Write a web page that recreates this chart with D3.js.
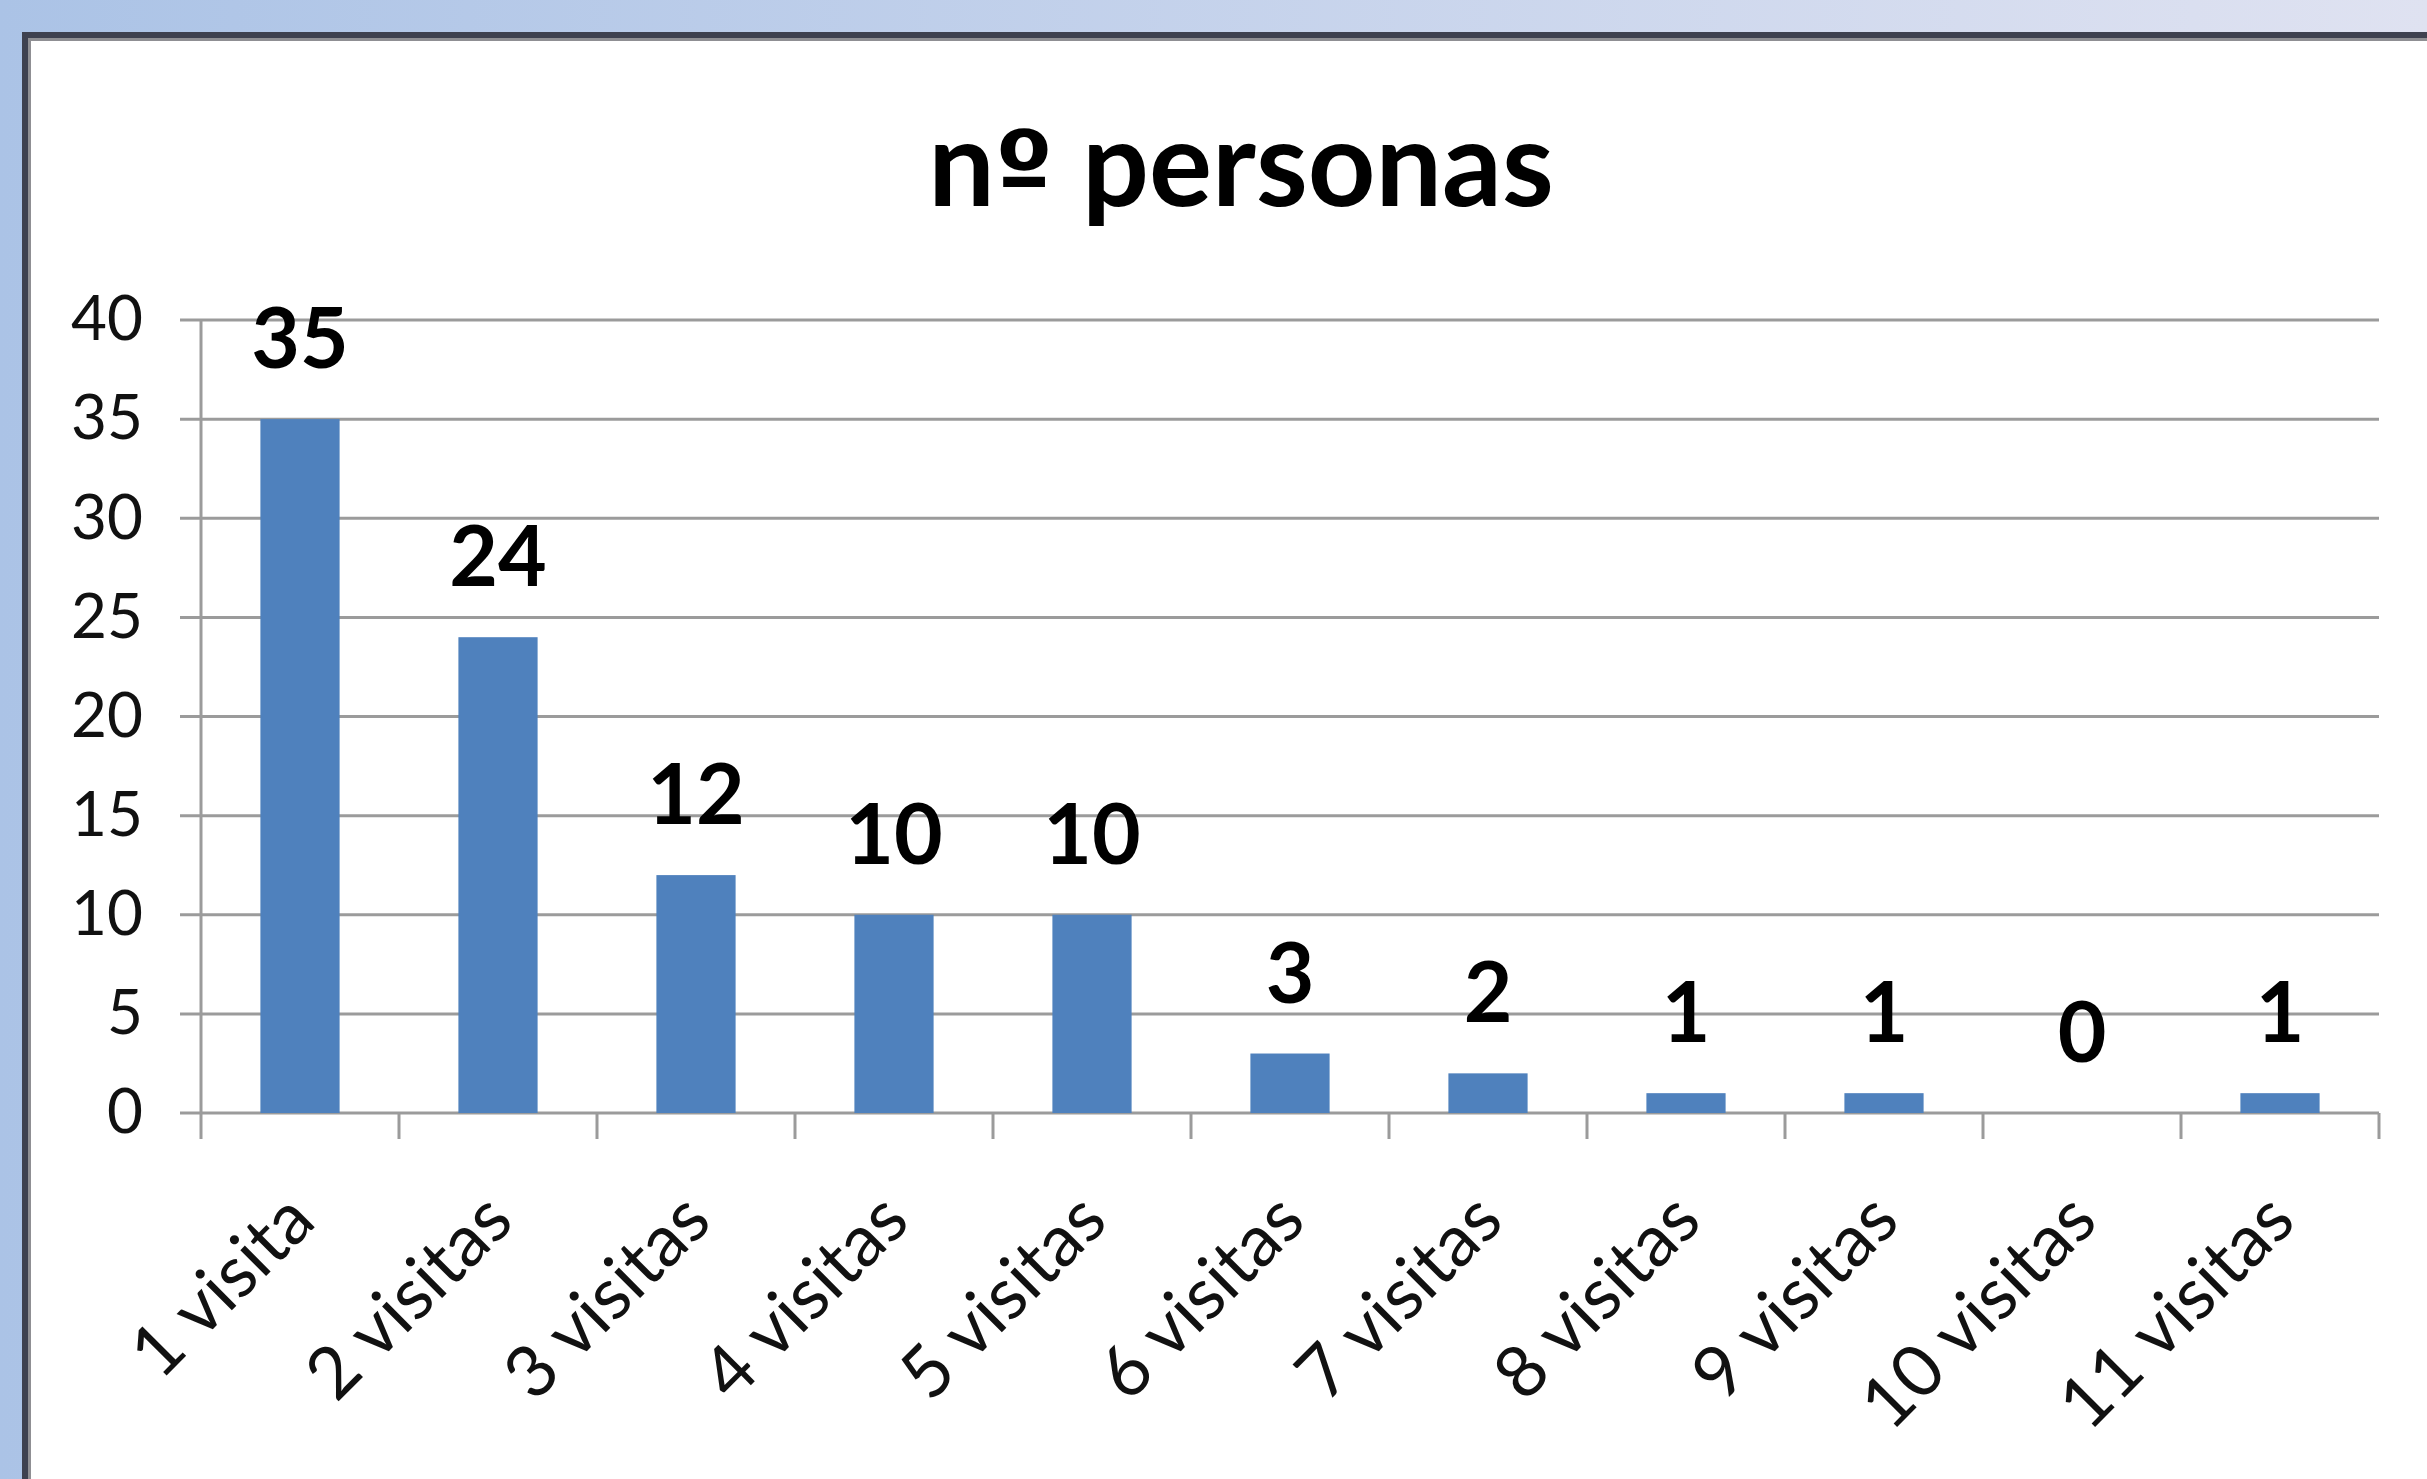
<!DOCTYPE html>
<html>
<head>
<meta charset="utf-8">
<script src="https://cdn.jsdelivr.net/npm/d3@7"></script>
<style>
  body { margin: 0; overflow: hidden; }
  svg { display: block; }
</style>
</head>
<body>
<svg width="2427" height="1479"></svg>
<script>
// data
var titleParts = ["n", "º", " personas"];
var categories = ["1 visita", "2 visitas", "3 visitas", "4 visitas", "5 visitas", "6 visitas",
                  "7 visitas", "8 visitas", "9 visitas", "10 visitas", "11 visitas"];
var values = [35, 24, 12, 10, 10, 3, 2, 1, 1, 0, 1];
var yTicks = [0, 5, 10, 15, 20, 25, 30, 35, 40];

var svg = d3.select('svg'),
    width = +svg.attr("width"),
    height = +svg.attr("height");

var font = "Lato, 'Open Sans', sans-serif";
var gridColor = "#9b9b9b";

//Plot area
var plot = {left: 201, right: 2379, top: 320, bottom: 1113};

//Background gradient
var defs = svg.append('defs');
var grad = defs.append('linearGradient')
    .attr('id', 'bg')
    .attr('x1', 0).attr('x2', 1).attr('y1', 0).attr('y2', 0);
grad.append('stop').attr('offset', 0).attr('stop-color', '#abc3e6');
grad.append('stop').attr('offset', 1).attr('stop-color', '#dfe2f1');

svg.append('rect')
    .attr('width', width)
    .attr('height', height)
    .attr('fill', 'url(#bg)');

//Chart box
svg.append('rect')
    .attr('x', 24).attr('y', 35)
    .attr('width', width - 24).attr('height', height - 35)
    .attr('fill', '#ffffff');

svg.append('path')
    .attr('d', `M25,${height} V35 H${width}`)
    .attr('fill', 'none')
    .attr('stroke', '#3e414f')
    .attr('stroke-width', 6);

svg.append('path')
    .attr('d', `M29.5,${height} V39.5 H${width}`)
    .attr('fill', 'none')
    .attr('stroke', '#8f8f93')
    .attr('stroke-width', 3);

//Scales
var xScale = d3.scaleBand()
    .domain(categories)
    .range([plot.left, plot.right])
    .paddingInner(0.6)
    .paddingOuter(0.3);

var yScale = d3.scaleLinear()
    .domain([0, 40])
    .range([plot.bottom, plot.top]);

//Gridlines (they run out past the axis like the tick marks)
svg.append('g')
    .selectAll('line')
    .data(yTicks)
    .join('line')
    .attr('x1', plot.left - 21)
    .attr('x2', plot.right)
    .attr('y1', d => yScale(d))
    .attr('y2', d => yScale(d))
    .attr('stroke', gridColor)
    .attr('stroke-width', 3);

//Y axis labels
var yAxis = d3.axisLeft(yScale)
    .tickValues(yTicks)
    .tickSize(0)
    .tickPadding(58);

var gy = svg.append('g')
    .attr('transform', `translate(${plot.left},0)`)
    .call(yAxis);
gy.select('.domain').remove();
gy.selectAll('text')
    .attr('font-family', font)
    .attr('font-size', 62)
    .attr('fill', '#111');

//Y axis line
svg.append('line')
    .attr('x1', plot.left).attr('x2', plot.left)
    .attr('y1', yScale(40)).attr('y2', yScale(0) + 26)
    .attr('stroke', gridColor)
    .attr('stroke-width', 3);

//X axis ticks between categories
var bounds = d3.range(categories.length + 1).map(i => xScale.range()[0] + i * xScale.step());
svg.append('g')
    .selectAll('line')
    .data(bounds.slice(1))
    .join('line')
    .attr('x1', d => d).attr('x2', d => d)
    .attr('y1', yScale(0)).attr('y2', yScale(0) + 26)
    .attr('stroke', gridColor)
    .attr('stroke-width', 3);

//Bars
svg.append('g')
    .selectAll('rect')
    .data(values)
    .join('rect')
    .attr('x', (d, i) => xScale(categories[i]))
    .attr('width', xScale.bandwidth())
    .attr('y', d => yScale(d))
    .attr('height', d => yScale(0) - yScale(d))
    .attr('fill', '#4f81bd');

//Value labels
svg.append('g')
    .selectAll('text')
    .data(values)
    .join('text')
    .attr('x', (d, i) => xScale(categories[i]) + xScale.bandwidth() / 2)
    .attr('y', d => yScale(d) - 51)
    .attr('text-anchor', 'middle')
    .attr('font-family', font)
    .attr('font-weight', 'bold')
    .attr('font-size', 84)
    .attr('fill', '#000')
    .text(d => d);

//Category labels, rotated
svg.append('g')
    .selectAll('text')
    .data(categories)
    .join('text')
    .attr('transform', d => `translate(${xScale(d) + xScale.bandwidth() / 2 + 18},1224) rotate(-45)`)
    .attr('text-anchor', 'end')
    .attr('font-family', font)
    .attr('font-size', 72)
    .attr('fill', '#111')
    .text(d => d);

//Title (the ordinal sign taken from a font that draws it underlined)
var titleText = svg.append('text')
    .attr('x', 1241)
    .attr('y', 206)
    .attr('text-anchor', 'middle')
    .attr('font-family', font)
    .attr('font-weight', 'bold')
    .attr('font-size', 118)
    .attr('fill', '#000');

titleText.selectAll('tspan')
    .data(titleParts)
    .join('tspan')
    .attr('font-family', d => d === "º" ? "'DejaVu Sans', sans-serif" : font)
    .attr('font-size', d => d === "º" ? 104 : 118)
    .text(d => d);
</script>
</body>
</html>
